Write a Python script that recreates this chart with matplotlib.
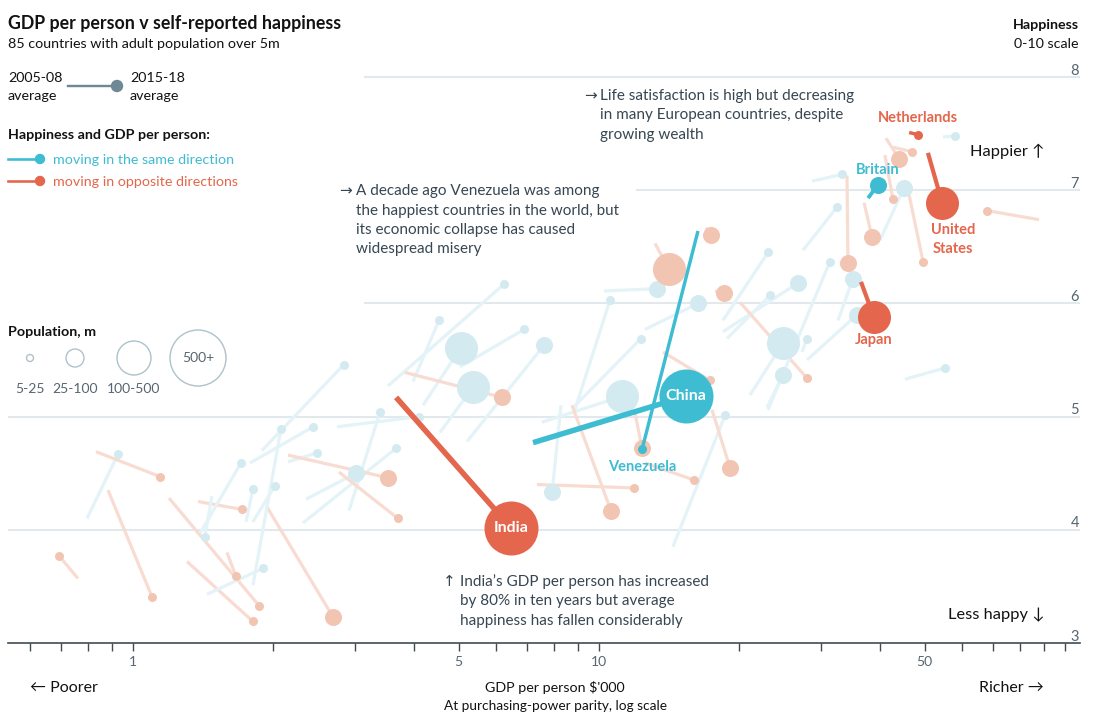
import matplotlib
matplotlib.use("Agg")
import matplotlib.pyplot as plt
from matplotlib.patches import Circle
from matplotlib.lines import Line2D
from matplotlib.ticker import FixedLocator, FixedFormatter, NullFormatter

plt.rcParams['font.family'] = ['Lato', 'DejaVu Sans']

# ---------------- data ----------------
country = ["China", "India", "United States", "Japan", "Britain", "Netherlands", "Venezuela"] + [""] * 69

gdp_start = [7.22, 3.67, 50.8, 36.5, 37.8, 46.3, 16.31,
             0.762, 0.884, 0.797, 0.833, 1.195, 1.306, 1.591, 1.940, 1.379, 1.477,
             1.393, 1.748, 1.809, 1.441, 1.809, 1.783, 2.151, 2.351, 2.316, 2.908,
             2.151, 2.767, 2.740, 1.891, 3.525, 3.990, 4.191, 4.558, 3.834, 5.032,
             5.209,
             8.88, 8.80, 7.54, 10.25, 13.19, 16.97, 17.74, 12.55, 18.45, 18.45,
             18.83, 20.07, 21.09, 22.94, 27.27,
             13.72, 14.41, 17.48, 12.55, 7.36, 8.29, 8.75, 11.95,
             45.37, 27.95, 23.05, 27.41, 87.96, 32.58,
             41.29, 42.74, 41.08, 40.09, 46.28, 37.05, 34.06, 28.65, 54.73]
happy_start = [4.77, 5.17, 7.33, 6.19, 6.93, 7.51, 6.64,
               3.57, 4.35, 4.10, 4.69, 4.28, 3.72, 3.80, 4.20, 4.25, 4.30,
               3.97, 4.07, 4.07, 3.43, 3.51, 4.59, 4.60, 4.27, 4.06, 4.17,
               4.66, 4.51, 4.91, 4.70, 5.27, 5.31, 5.10, 4.86, 5.39, 5.44,
               4.78,
               5.06, 5.08, 4.95, 6.11, 6.53, 6.67, 6.11, 5.77, 5.85, 5.75,
               5.69, 6.01, 5.19, 5.08, 5.57,
               5.57, 3.85, 5.06, 4.59, 4.40, 5.10, 5.10, 5.03,
               5.33, 5.50, 5.06, 6.47, 6.74, 5.85,
               7.46, 7.38, 7.31, 6.56, 6.96, 6.89, 7.13, 7.08, 7.47]
gdp_end = [15.37, 6.47, 54.5, 38.9, 39.7, 48.4, 12.37,
           0.694, 1.098, 0.929, 1.143, 1.864, 1.809, 1.663, 2.687, 1.713, 1.427,
           1.705, 1.809, 2.017, 1.901, 2.078, 2.434, 2.482, 3.009, 3.667, 3.389,
           3.525, 3.704, 4.109, 2.836, 6.254, 4.536, 5.057, 5.365, 6.192, 6.904,
           7.62,
           10.56, 12.31, 11.21, 13.32, 14.13, 17.39, 18.54, 16.31, 23.05, 26.73,
           23.28, 27.95, 24.83, 24.83, 27.95,
           17.31, 18.64, 19.10, 15.99, 11.89, 7.93, 10.61, 12.37,
           55.27, 35.78, 31.31, 32.41, 68.02, 35.09,
           44.04, 46.96, 42.74, 45.14, 49.59, 38.53, 34.22, 33.23, 58.05]
happy_end = [5.18, 4.02, 6.89, 5.88, 7.05, 7.49, 4.71,
             3.77, 3.41, 4.67, 4.47, 3.33, 3.19, 3.59, 3.23, 4.18, 3.94,
             4.59, 4.36, 4.39, 3.66, 4.89, 4.91, 4.68, 4.50, 4.72, 5.04,
             4.46, 4.10, 5.00, 5.46, 6.17, 5.85, 5.61, 5.26, 5.17, 5.77,
             5.63,
             6.03, 5.69, 5.18, 6.13, 6.30, 6.60, 6.09, 6.00, 6.45, 6.18,
             6.07, 5.34, 5.65, 5.37, 5.69,
             5.32, 5.01, 4.55, 4.44, 4.37, 4.33, 4.17, 4.72,
             5.43, 5.90, 6.37, 6.85, 6.82, 6.22,
             7.28, 7.34, 6.92, 7.02, 6.37, 6.59, 6.36, 7.14, 7.48]
# population band: 0 = 5-25m, 1 = 25-100m, 2 = 100-500m, 3 = 500m+
pop_band = [3, 3, 2, 2, 1, 0, 0,
            0, 0, 0, 0, 0, 0, 0, 1, 0, 0,
            0, 0, 0, 0, 0, 0, 0, 1, 0, 0,
            1, 0, 0, 0, 0, 0, 2, 2, 1, 0,
            1,
            0, 0, 2, 1, 2, 1, 1, 1, 0, 1,
            0, 0, 2, 1, 0,
            0, 0, 1, 0, 0, 1, 1, 1,
            0, 1, 0, 0, 0, 1,
            1, 0, 0, 1, 0, 1, 1, 0, 0]
band_labels = ["5-25", "25-100", "100-500", "500+"]
y_ticks = [3, 4, 5, 6, 7, 8]
x_major = [1, 5, 10, 50]
x_minor = [0.6, 0.7, 0.8, 0.9, 2, 3, 4, 6, 7, 8, 9, 20, 30, 40, 60, 70, 80, 90, 100]

# ---------------- style ----------------
W, H = 1107, 727
PT = 0.72  # points per pixel at dpi 100
BLUE, RED = "#3EBCD2", "#E4664C"
BLUE_DOT, BLUE_LINE = "#D3EAF0", "#E3F3F7"
RED_DOT, RED_LINE = "#F2C4B2", "#F8DCD2"
GRID = "#E3E8EC"
TXT = "#121212"
NOTE = "#364652"
GREY = "#56656F"
dot_px = [9, 17, 33, 54]
hl_line_px = [3.4, 3.8, 4.2, 5.5]
NOTE_SIZE = 11.0

fig = plt.figure(figsize=(W / 100, H / 100), dpi=100)


def fx(x):
    return x / W


def fy(y):
    return 1 - y / H


def inch(x, y):
    return (x / 100, (H - y) / 100)


ax = fig.add_axes([fx(8), fy(643), (1080 - 8) / W, (643 - 70) / H])
ax.set_xscale("log")
ax.set_xlim(0.5393, 107.7)
ax.set_ylim(3, 8.062)
for s in ["top", "left", "right"]:
    ax.spines[s].set_visible(False)
ax.spines["bottom"].set_color("#3F4B53")
ax.spines["bottom"].set_linewidth(1.2)
ax.xaxis.set_major_locator(FixedLocator(x_major))
ax.xaxis.set_major_formatter(FixedFormatter([str(v) for v in x_major]))
ax.xaxis.set_minor_locator(FixedLocator(x_minor))
ax.xaxis.set_minor_formatter(NullFormatter())
ax.tick_params(axis="x", which="both", length=8 * PT, width=1, color="#3F4B53",
               direction="out", labelsize=10, labelcolor=GREY, pad=5 * PT)
ax.tick_params(axis="y", left=False, labelleft=False)
ax.patch.set_alpha(0)

# gridlines (start positions follow the layout of the text blocks)
grid_start = {4: 0.0, 5: 0.0, 6: (365 - 8) / 1072, 7: (637 - 8) / 1072, 8: (365 - 8) / 1072}
for yv in y_ticks:
    if yv != 3:
        ax.axhline(yv, xmin=grid_start[yv], xmax=1.0, color=GRID, lw=1.5, zorder=0)
    ax.text(0.999, yv + 2.5 / 113.2, str(yv), transform=ax.get_yaxis_transform(),
            ha="right", va="baseline", fontsize=10.5, color=GREY)

# data marks
n = len(gdp_start)
for i in range(n):
    same = (gdp_end[i] - gdp_start[i]) * (happy_end[i] - happy_start[i]) > 0
    band = pop_band[i]
    if country[i]:
        col = BLUE if same else RED
        lc, dc = col, col
        lw = hl_line_px[band] * PT
        zl, zd = 6, 7
    else:
        lc = BLUE_LINE if same else RED_LINE
        dc = BLUE_DOT if same else RED_DOT
        lw = 3.2 * PT
        zl, zd = 2, 3
    ax.plot([gdp_start[i], gdp_end[i]], [happy_start[i], happy_end[i]], color=lc, lw=lw,
            solid_capstyle="butt", zorder=zl, clip_on=False)
    ax.scatter([gdp_end[i]], [happy_end[i]], s=(dot_px[band] * PT) ** 2, color=dc,
               linewidths=0, zorder=zd, clip_on=False)

# country labels
label_style = {
    "China": dict(off=(0, 0), color="white", size=11.5),
    "India": dict(off=(0, 0), color="white", size=11.5),
    "United States": dict(off=(11, -37), color=RED, size=10.5),
    "Japan": dict(off=(0, -23), color=RED, size=10.5),
    "Britain": dict(off=(0, 15), color=BLUE, size=10.5),
    "Netherlands": dict(off=(0, 17), color=RED, size=10.5),
    "Venezuela": dict(off=(0, -18), color=BLUE, size=10.5),
}
for i in range(n):
    name = country[i]
    if not name:
        continue
    st = label_style[name]
    txt = "United\nStates" if name == "United States" else name
    ax.annotate(txt, xy=(gdp_end[i], happy_end[i]),
                xytext=(st["off"][0] * PT, st["off"][1] * PT), textcoords="offset points",
                ha="center", va="center", color=st["color"], fontsize=st["size"],
                fontweight="bold", zorder=9, linespacing=1.4)

# ---------------- titles / legends ----------------
fig.text(fx(8), fy(29), "GDP per person v self-reported happiness", fontsize=12.8,
         fontweight="bold", color=TXT, va="baseline")
fig.text(fx(8), fy(48), "85 countries with adult population over 5m", fontsize=10.3,
         color=TXT, va="baseline")
fig.text(fx(1079), fy(29), "Happiness", fontsize=10.3, fontweight="bold", color=TXT,
         va="baseline", ha="right")
fig.text(fx(1079), fy(48), "0-10 scale", fontsize=10.3, color=TXT, va="baseline", ha="right")

# period legend
fig.text(fx(8), fy(82), "2005-08", fontsize=10.3, color=TXT, va="baseline")
fig.text(fx(8), fy(100), "average", fontsize=10.3, color=TXT, va="baseline")
fig.text(fx(130), fy(82), "2015-18", fontsize=10.3, color=TXT, va="baseline")
fig.text(fx(130), fy(100), "average", fontsize=10.3, color=TXT, va="baseline")
x0, y0 = inch(68, 86)
x1, _ = inch(117, 86)
fig.add_artist(Line2D([x0, x1], [y0, y0], color="#6E8894", lw=2.4 * PT,
                      transform=fig.dpi_scale_trans))
fig.add_artist(Circle(inch(117, 86), 5.5 / 100, color="#6E8894",
                      transform=fig.dpi_scale_trans))

fig.text(fx(8), fy(139), "Happiness and GDP per person:", fontsize=10.3,
         fontweight="bold", color=TXT, va="baseline")
for yy, col, lab in [(159, BLUE, "moving in the same direction"),
                     (181, RED, "moving in opposite directions")]:
    a0, b0 = inch(8, yy)
    a1, _ = inch(40, yy)
    fig.add_artist(Line2D([a0, a1], [b0, b0], color=col, lw=2.6 * PT,
                          transform=fig.dpi_scale_trans))
    fig.add_artist(Circle(inch(40, yy), 4.5 / 100, color=col, transform=fig.dpi_scale_trans))
    fig.text(fx(53), fy(yy + 5), lab, fontsize=10.3, color=col, va="baseline")

# population legend
fig.text(fx(8), fy(336), "Population, m", fontsize=10.3, fontweight="bold", color=TXT,
         va="baseline")
leg_x = [30, 75, 134, 198]
leg_r = [3.5, 9, 17, 28]
for k in range(4):
    fig.add_artist(Circle(inch(leg_x[k], 358), leg_r[k] / 100, fill=False,
                          edgecolor="#AFC1CB", lw=1.0, transform=fig.dpi_scale_trans))
    if k < 3:
        fig.text(fx(leg_x[k]), fy(393), band_labels[k], fontsize=10, color=GREY,
                 ha="center", va="baseline")
fig.text(fx(198), fy(358), band_labels[3], fontsize=10, color=GREY, ha="center", va="center")


# annotations
def note(x_arrow, x_text, y_base, arrow, lines):
    fig.text(fx(x_arrow), fy(y_base), arrow, fontsize=NOTE_SIZE, color=NOTE, va="baseline",
             family=["DejaVu Sans"])
    for j, ln in enumerate(lines):
        fig.text(fx(x_text), fy(y_base + j * 19.5), ln, fontsize=NOTE_SIZE, color=NOTE,
                 va="baseline")


note(584, 600, 100, "\u2192", ["Life satisfaction is high but decreasing",
                               "in many European countries, despite",
                               "growing wealth"])
note(339, 356, 195, "\u2192", ["A decade ago Venezuela was among",
                               "the happiest countries in the world, but",
                               "its economic collapse has caused",
                               "widespread misery"])
note(443, 460, 586, "\u2191", ["India\u2019s GDP per person has increased",
                               "by 80% in ten years but average",
                               "happiness has fallen considerably"])

# direction labels
fig.text(fx(1044), fy(151), "Happier \u2191", fontsize=11.8, color=TXT, ha="right", va="center")
fig.text(fx(1044), fy(615), "Less happy \u2193", fontsize=11.8, color=TXT, ha="right", va="center")
fig.text(fx(30), fy(688), "\u2190 Poorer", fontsize=11.5, color=TXT, ha="left", va="center")
fig.text(fx(1044), fy(688), "Richer \u2192", fontsize=11.5, color=TXT, ha="right", va="center")
fig.text(fx(555), fy(688), "GDP per person $'000", fontsize=10.3, color=TXT, ha="center",
         va="center")
fig.text(fx(555), fy(706), "At purchasing-power parity, log scale", fontsize=9.8, color=TXT,
         ha="center", va="center")

fig.savefig("out.png", dpi=100)
